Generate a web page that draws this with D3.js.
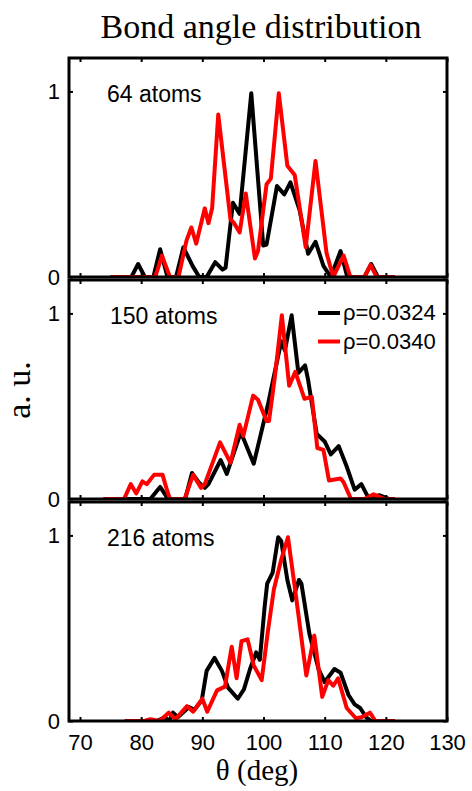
<!DOCTYPE html>
<html>
<head>
<meta charset="utf-8">
<script src="https://cdn.jsdelivr.net/npm/d3@7"></script>
<style>
  html, body { margin: 0; padding: 0; background: #fff; }
  svg { display: block; }
</style>
</head>
<body>
<svg id="chart" width="472" height="791"></svg>
<script>
// Bond angle distributions (normalised, arbitrary units) for three cluster sizes
// and two densities. Each series is a list of [theta (deg), value] pairs.
const panelLabels = ["64 atoms", "150 atoms", "216 atoms"];
const seriesNames = ["\u03c1=0.0324", "\u03c1=0.0340"];
const seriesColors = ["#000000", "#ff0000"];
const xTicks = [70, 80, 90, 100, 110, 120, 130];
const yTicks = [0, 1];

const p64Black = [[75,0],[78.4,0],[79.5,0.07],[80.6,0],[82.0,0],[83.1,0.15],[84.3,0],[85.7,0],[86.9,0.16],[88.4,0.06],[89.5,0],[90.7,0],[92.1,0.08],[93.3,0.04],[93.8,0.05],[95.0,0.40],[96.1,0.34],[98.0,0.99],[99.95,0.17],[100.5,0.175],[102.2,0.49],[103.4,0.445],[104.4,0.51],[105.9,0.36],[107.3,0.125],[108.5,0.19],[109.8,0.06],[111.0,0],[112.6,0.14],[113.7,0],[116.5,0],[117.6,0.07],[118.7,0],[121.5,0]];
const p64Red = [[75,0],[82.3,0],[83.4,0.115],[84.7,0],[86.1,0],[87.4,0.195],[88.2,0.267],[89.0,0.18],[90.4,0.37],[91.0,0.29],[91.6,0.37],[92.6,0.875],[94.6,0.31],[95.2,0.29],[96.1,0.24],[97.1,0.45],[98.6,0.10],[99.1,0.14],[100.5,0.50],[101.2,0.53],[102.5,0.99],[103.9,0.60],[105.1,0.55],[106.9,0.16],[108.5,0.625],[110.3,0.13],[111.4,0],[113.1,0.115],[114.2,0],[116.5,0],[117.5,0.065],[118.5,0],[121.5,0]];

const p150Black = [[75,0],[81.5,0],[83.1,0.065],[84.4,0],[87.2,0],[88.3,0.14],[89.4,0.09],[90.4,0.06],[91.0,0.08],[93.0,0.21],[94.0,0.135],[96.3,0.36],[98.4,0.19],[100.8,0.52],[102.9,0.85],[103.5,0.80],[104.6,0.99],[105.7,0.68],[106.8,0.72],[107.3,0.64],[108.7,0.35],[110.0,0.31],[111.0,0.24],[112.3,0.285],[113.6,0.175],[114.9,0.05],[116.0,0.08],[117.1,0.01],[119.0,0.02],[120.6,0],[121.5,0]];
const p150Red = [[73.8,0],[77.2,0],[78.3,0.08],[79.2,0.03],[80.2,0.095],[80.9,0.08],[82.1,0.13],[83.5,0.13],[84.2,0.05],[84.7,0],[87.1,0],[88.5,0.13],[89.8,0.06],[90.4,0.08],[92.9,0.305],[94.6,0.195],[96.1,0.40],[96.7,0.34],[98.3,0.557],[99.1,0.535],[100.5,0.42],[100.9,0.42],[101.9,0.67],[103.0,0.99],[104.2,0.61],[105.2,0.685],[106.7,0.54],[107.9,0.55],[108.8,0.275],[109.8,0.265],[110.7,0.10],[112.6,0.11],[113.1,0.09],[114.3,0],[116.5,0],[118.0,0.025],[119.8,0],[121.5,0]];

const p216Black = [[78.4,0],[82.5,0],[83.9,0.02],[84.6,0],[85.2,0.045],[86.0,0.02],[87.8,0.075],[88.7,0.06],[89.9,0.11],[90.7,0.27],[92.0,0.34],[93.2,0.27],[94.2,0.18],[95.8,0.12],[96.8,0.17],[97.8,0.28],[98.8,0.37],[99.4,0.33],[100.2,0.62],[100.6,0.74],[101.5,0.80],[102.4,0.99],[102.9,0.97],[103.9,0.76],[104.7,0.65],[105.8,0.76],[106.2,0.74],[107.5,0.47],[109.0,0.28],[110.0,0.21],[111.6,0.28],[112.6,0.26],[113.9,0.14],[114.9,0.09],[115.8,0.07],[116.8,0.02],[117.6,0],[121.5,0]];
const p216Red = [[77.3,0],[80.5,0],[81.5,0.01],[83.0,0],[84.5,0.045],[85.6,0.01],[87.5,0.08],[88.5,0.05],[90.0,0.12],[90.8,0.05],[92.4,0.165],[93.7,0.185],[94.8,0.40],[95.6,0.23],[96.4,0.43],[97.4,0.44],[98.4,0.30],[99.7,0.22],[100.7,0.48],[101.7,0.71],[102.9,0.87],[104.0,0.99],[105.2,0.70],[107.0,0.245],[108.3,0.46],[109.6,0.13],[110.6,0.22],[111.4,0.19],[112.2,0.23],[113.6,0.07],[115.1,0.015],[116.0,0.02],[117.4,0.045],[118.3,0],[121.5,0]];

const panelSeries = [[p64Black, p64Red], [p150Black, p150Red], [p216Black, p216Red]];

const svg = d3.select("#chart");
const sans = "'Liberation Sans', Arial, sans-serif";
const serif = "'Liberation Serif', 'Times New Roman', serif";

const left = 69, right = 447;
const panelTops = [58, 280, 502];
const panelH = 219;

const x = d3.scaleLinear().domain([68.2, 130]).range([left, right]);

// Title
svg.append("text")
  .attr("x", 261).attr("y", 38)
  .attr("text-anchor", "middle")
  .style("font-family", serif).style("font-size", "34px")
  .text("Bond angle distribution");

panelSeries.forEach((series, i) => {
  const top = panelTops[i], bottom = top + panelH;
  const y = d3.scaleLinear().domain([0, 1.18]).range([bottom, top]);
  const g = svg.append("g");

  const line = d3.line()
    .x(d => x(d[0]))
    .y(d => y(d[1]));

  const clipId = "clip" + i;
  g.append("clipPath").attr("id", clipId)
    .append("rect").attr("x", left).attr("y", top - 4)
    .attr("width", right - left).attr("height", panelH + 4);

  series.forEach((s, k) => {
    g.append("path")
      .datum(s)
      .attr("clip-path", `url(#${clipId})`)
      .attr("d", line)
      .attr("fill", "none")
      .attr("stroke", seriesColors[k])
      .attr("stroke-width", 4)
      .attr("stroke-linejoin", "round")
      .attr("stroke-linecap", "butt");
  });

  // inward ticks: bottom/top and left/right
  const tickLen = 4;
  g.append("g").attr("transform", `translate(0,${bottom})`)
    .call(d3.axisBottom(x).tickValues(xTicks).tickSize(-tickLen).tickFormat(i === 2 ? d3.format("d") : ""))
    .call(a => a.select(".domain").remove())
    .call(a => a.selectAll("line").attr("stroke", "#000").attr("stroke-width", 2))
    .call(a => a.selectAll("text").attr("dy", null).attr("y", 29)
      .style("font-family", sans).style("font-size", "22px").attr("fill", "#000"));
  g.append("g").attr("transform", `translate(0,${top})`)
    .call(d3.axisTop(x).tickValues(xTicks).tickSize(-tickLen).tickFormat(""))
    .call(a => a.select(".domain").remove())
    .call(a => a.selectAll("line").attr("stroke", "#000").attr("stroke-width", 2));
  g.append("g").attr("transform", `translate(${left},0)`)
    .call(d3.axisLeft(y).tickValues(yTicks).tickSize(-tickLen).tickFormat(d3.format("d")).tickPadding(9))
    .call(a => a.select(".domain").remove())
    .call(a => a.selectAll("line").attr("stroke", "#000").attr("stroke-width", 2))
    .call(a => a.selectAll("text").style("font-family", sans).style("font-size", "22px").attr("fill", "#000"));
  g.append("g").attr("transform", `translate(${right},0)`)
    .call(d3.axisRight(y).tickValues(yTicks).tickSize(-tickLen).tickFormat(""))
    .call(a => a.select(".domain").remove())
    .call(a => a.selectAll("line").attr("stroke", "#000").attr("stroke-width", 2));

  // frame
  g.append("rect")
    .attr("x", left).attr("y", top)
    .attr("width", right - left).attr("height", panelH)
    .attr("fill", "none").attr("stroke", "#000").attr("stroke-width", 3);

  // panel annotation
  g.append("text")
    .attr("x", i === 1 ? 110 : 107).attr("y", top + 44)
    .style("font-family", sans).style("font-size", "23px")
    .text(panelLabels[i]);

  // legend in the middle panel
  if (i === 1) {
    seriesNames.forEach((name, k) => {
      const ly = 313 + k * 28.5;
      g.append("line")
        .attr("x1", 318).attr("x2", 340).attr("y1", ly).attr("y2", ly)
        .attr("stroke", seriesColors[k]).attr("stroke-width", 4);
      g.append("text")
        .attr("x", 343).attr("y", ly + 7)
        .style("font-family", sans).style("font-size", "22px")
        .text(name);
    });
  }
});

// axis titles
svg.append("text")
  .attr("x", 257).attr("y", 780)
  .attr("text-anchor", "middle")
  .style("font-family", serif).style("font-size", "29px")
  .text("\u03b8 (deg)");

svg.append("text")
  .attr("transform", "translate(30,390) rotate(-90)")
  .attr("text-anchor", "middle")
  .style("font-family", serif).style("font-size", "34px")
  .text("a. u.");
</script>
</body>
</html>
